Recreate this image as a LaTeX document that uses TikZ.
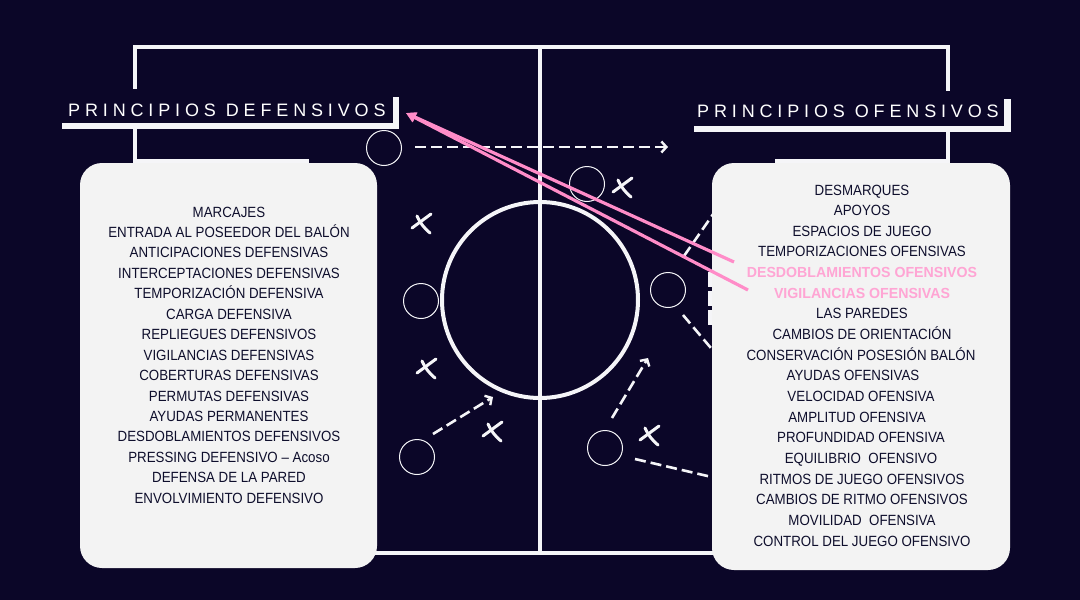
\documentclass[tikz,border=0pt]{standalone}
\usepackage{fontspec}
\setmainfont{Liberation Sans}
\newfontfamily\listfont[FakeStretch=0.9]{Liberation Sans}
\newfontfamily\pinkfont[FakeStretch=0.97]{Liberation Sans}
\newfontfamily\titlefont[LetterSpace=27]{Liberation Sans}
\usetikzlibrary{arrows.meta}
\definecolor{bg}{RGB}{11,6,40}
\definecolor{boxfill}{RGB}{243,243,243}
\definecolor{ink}{RGB}{14,14,44}
\definecolor{pinkline}{RGB}{255,140,200}
\definecolor{pinktext}{RGB}{255,165,212}
\definecolor{chalk}{RGB}{245,245,248}
\tikzset{
  fieldline/.style={draw=chalk, line width=3.2pt},
  player/.style={draw=chalk, line width=1pt},
  chalkdash/.style={draw=chalk, line width=2.6pt, dash pattern=on 11pt off 5pt},
  chalkarrow/.style={chalkdash, -{Straight Barb[length=5pt,width=11pt,line width=2.4pt]}},
  xstroke/.style={draw=chalk, line width=3pt, line cap=round},
  xmark/.pic={\draw[xstroke] (-10,5) -- (9,-9); \draw[xstroke] (-5,-7) to[bend right=12] (8,10);},
  listbox/.style={fill=boxfill, rounded corners=22pt},
  listitem/.style={anchor=base, inner sep=0pt, text=ink, font=\listfont\fontsize{14.8}{16}\selectfont},
  pinkitem/.style={anchor=base, inner sep=0pt, text=pinktext, font=\pinkfont\bfseries\fontsize{14.6}{16}\selectfont},
  titletext/.style={anchor=base west, inner sep=0pt, text=white, font=\titlefont\fontsize{18}{20}\selectfont},
  pinkarrow/.style={draw=pinkline, line width=3.2pt, -{Triangle[length=10pt,width=10pt]}}
}
\begin{document}
\begin{tikzpicture}[x=1pt,y=-1pt]
\useasboundingbox (0,0) rectangle (1080,600);
\fill[bg] (0,0) rectangle (1080,600);
% field
\draw[fieldline] (135,47) rectangle (948,553);
\draw[fieldline] (540,47) -- (540,553);
\draw[fieldline, line width=4pt] (540,300) circle[radius=98];
\draw[fieldline] (135,161) -- (307,161) -- (307,440) -- (135,440);
\draw[fieldline] (948,161) -- (777,161) -- (777,440) -- (948,440);
% players
\draw[player] (384,148) circle[radius=17.5];
\draw[player] (587,184) circle[radius=17.5];
\draw[player] (421,301) circle[radius=17.5];
\draw[player] (668,290) circle[radius=17.5];
\draw[player] (417,457) circle[radius=17.5];
\draw[player] (605,448) circle[radius=17.5];
\pic at (623,187) {xmark};
\pic at (422,223) {xmark};
\pic at (427,368) {xmark};
\pic at (493,431) {xmark};
\pic at (650,435) {xmark};
% movement lines
\draw[chalkarrow] (415,147) -- (668,147);
\draw[chalkarrow] (433,434) -- (493,397);
\draw[chalkarrow] (612,418) -- (648,358);
\draw[chalkdash] (684,256) -- (716,210);
\draw[chalkdash] (683,315) -- (716,354);
\draw[chalkdash] (635,459) -- (716,478);
\draw[draw=chalk, line width=4pt, dash pattern=on 15pt off 4pt] (710,272) -- (710,326);
% titles
\fill[bg] (62,89) rectangle (393,123);
\fill[chalk] (62,123) rectangle (399,129);
\fill[chalk] (393,97) rectangle (399,129);
\node[titletext] (deftitle) at (68,116) {PRINCIPIOS DEFENSIVOS};
\fill[bg] (694,91) rectangle (1004,126);
\fill[chalk] (694,126) rectangle (1011,132);
\fill[chalk] (1004,99) rectangle (1011,132);
\node[titletext] (oftitle) at (697,117) {PRINCIPIOS OFENSIVOS};
% boxes
\fill[listbox] (80,163) rectangle (377,568);
\fill[listbox] (712,163) rectangle (1010,570);
\foreach \t [count=\i] in {MARCAJES, ENTRADA AL POSEEDOR DEL BALÓN, ANTICIPACIONES DEFENSIVAS,
  INTERCEPTACIONES DEFENSIVAS, TEMPORIZACIÓN DEFENSIVA, CARGA DEFENSIVA, REPLIEGUES DEFENSIVOS,
  VIGILANCIAS DEFENSIVAS, COBERTURAS DEFENSIVAS, PERMUTAS DEFENSIVAS, AYUDAS PERMANENTES,
  DESDOBLAMIENTOS DEFENSIVOS, PRESSING DEFENSIVO – Acoso, DEFENSA DE LA PARED, ENVOLVIMIENTO DEFENSIVO}
  \node[listitem] (L\i) at (229,{217+(\i-1)*20.45}) {\t};
\foreach \t [count=\i] in {DESMARQUES, APOYOS, ESPACIOS DE JUEGO, TEMPORIZACIONES OFENSIVAS}
  \node[listitem] (R\i) at (862,{195+(\i-1)*20.65}) {\t};
\node[pinkitem] (R5) at (862,{195+4*20.65}) {DESDOBLAMIENTOS OFENSIVOS};
\node[pinkitem] (R6) at (862,{195+5*20.65}) {VIGILANCIAS OFENSIVAS};
\foreach \t/\cx [count=\i from 7] in {LAS PAREDES/862, CAMBIOS DE ORIENTACIÓN/862,
  CONSERVACIÓN POSESIÓN BALÓN/861, AYUDAS OFENSIVAS/853, VELOCIDAD OFENSIVA/861,
  AMPLITUD OFENSIVA/857, PROFUNDIDAD OFENSIVA/861, EQUILIBRIO\ \ OFENSIVO/861,
  RITMOS DE JUEGO OFENSIVOS/862, CAMBIOS DE RITMO OFENSIVOS/862, MOVILIDAD\ \ OFENSIVA/862,
  CONTROL DEL JUEGO OFENSIVO/862}
  \node[listitem] (R\i) at (\cx,{195+(\i-1)*20.65}) {\t};
% pink arrows
\coordinate (tip) at (406,113);
\coordinate (p1) at (734,262);
\coordinate (p2) at (748,290);
\draw[pinkarrow] (p1) -- (tip);
\draw[pinkarrow] (p2) -- (tip);
\end{tikzpicture}
\end{document}
